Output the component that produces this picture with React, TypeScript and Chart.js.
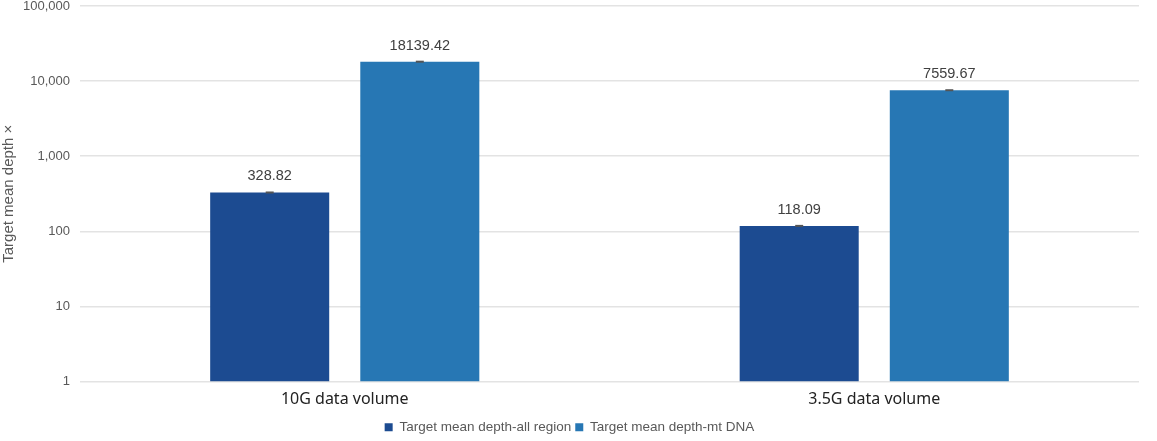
import React, { useEffect, useRef } from "react";
import { Chart, registerables } from "chart.js";

Chart.register(...registerables);

const categories = ["10G data volume", "3.5G data volume"];
const seriesNames = ["Target mean depth-all region", "Target mean depth-mt DNA"];
const allRegion = [328.82, 118.09];
const mtDNA = [18139.42, 7559.67];
const yTicks = [1, 10, 100, 1000, 10000, 100000];
const colors = ["#1c4b91", "#2777b4"];

const valueLabels = {
  id: "valueLabels",
  afterDatasetsDraw(chart: any) {
    const ctx = chart.ctx;
    ctx.save();
    chart.data.datasets.forEach((ds: any, di: number) => {
      const meta = chart.getDatasetMeta(di);
      meta.data.forEach((bar: any, i: number) => {
        const v = ds.data[i];
        ctx.strokeStyle = "#555555";
        ctx.lineWidth = 2;
        ctx.beginPath();
        ctx.moveTo(bar.x - 4, bar.y);
        ctx.lineTo(bar.x + 4, bar.y);
        ctx.stroke();
        ctx.fillStyle = "#404040";
        ctx.font = "14.5px 'Liberation Sans', Arial, sans-serif";
        ctx.textAlign = "center";
        ctx.textBaseline = "alphabetic";
        ctx.fillText(v.toFixed(2), bar.x, bar.y - 12);
      });
    });
    ctx.restore();
  },
};

export default function App() {
  const ref = useRef<HTMLCanvasElement>(null);
  useEffect(() => {
    document.body.style.margin = "0";
    const chart = new Chart(ref.current!, {
      type: "bar",
      data: {
        labels: categories,
        datasets: [
          { label: seriesNames[0], data: allRegion, backgroundColor: colors[0] },
          { label: seriesNames[1], data: mtDNA, backgroundColor: colors[1] },
        ],
      },
      plugins: [valueLabels],
      options: {
        animation: false,
        responsive: false,
        maintainAspectRatio: false,
        layout: { padding: { top: 6, left: 0, right: 18, bottom: -3 } },
        datasets: { bar: { barPercentage: 0.793, categoryPercentage: 0.567 } },
        plugins: {
          tooltip: { enabled: false },
          legend: {
            position: "bottom",
            labels: {
              boxWidth: 8,
              boxHeight: 8,
              padding: 4,
              color: "#595959",
              font: { family: "'Liberation Sans', Arial, sans-serif", size: 13.5 },
            },
          },
        },
        scales: {
          x: {
            grid: { display: false },
            border: { display: false },
            ticks: {
              color: "#222222",
              padding: 0,
              font: { family: "'Noto Sans', 'Open Sans', sans-serif", size: 16 },
            },
            afterFit(scale: any) {
              scale.height = 35;
              scale.paddingLeft = 0;
              scale.paddingRight = 0;
            },
          },
          y: {
            type: "logarithmic",
            min: 1,
            max: 100000,
            afterBuildTicks(scale: any) {
              scale.ticks = yTicks.map((v) => ({ value: v }));
            },
            afterFit(scale: any) {
              scale.width = 80;
              scale.paddingTop = 0;
              scale.paddingBottom = 0;
            },
            grid: { color: "#e3e3e3", lineWidth: 1.5, drawTicks: false },
            border: { display: false },
            ticks: {
              padding: 10,
              color: "#595959",
              font: { family: "'Liberation Sans', Arial, sans-serif", size: 13 },
              callback: (v: any) => Number(v).toLocaleString("en-US"),
            },
            title: {
              display: true,
              text: "Target mean depth ×",
              color: "#595959",
              padding: 0,
              font: { family: "'Liberation Sans', Arial, sans-serif", size: 15 },
            },
          },
        },
      } as any,
    });
    return () => chart.destroy();
  }, []);
  return (
    <div style={{ position: "fixed", left: 0, top: 0, width: 1157, height: 441, background: "#fff" }}>
      <canvas ref={ref} width={1157} height={441} style={{ width: 1157, height: 441 }} />
    </div>
  );
}
